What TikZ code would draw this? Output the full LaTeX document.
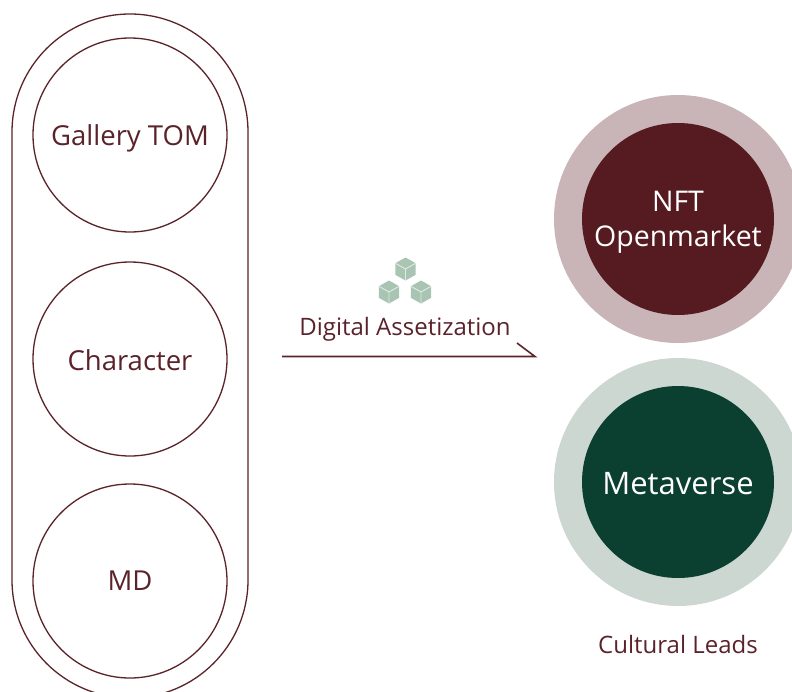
\documentclass[tikz,border=0pt]{standalone}
\usepackage{fontspec}
\setmainfont{Open Sans}
\definecolor{wine}{HTML}{5A2329}
\definecolor{winefill}{HTML}{561B20}
\definecolor{winering}{HTML}{C9B5B7}
\definecolor{greenfill}{HTML}{0B4031}
\definecolor{greenring}{HTML}{CCD7D2}
\definecolor{cube}{HTML}{A9C4B3}
\newcommand{\dropby}[2]{\raisebox{-#1}[\height][\depth]{#2}}
\tikzset{x=1pt,y=-1pt,
 itemcircle/.style={circle,draw=wine,line width=1.3pt,minimum size=194pt,inner sep=0pt,text=wine,font=\fontsize{27.5}{30}\selectfont},
 ringcircle/.style={circle,minimum size=248pt,inner sep=0pt},
 corecircle/.style={circle,minimum size=192pt,inner sep=0pt,text=white,align=center,font=\fontsize{28.5}{35}\selectfont},
 smalllabel/.style={text=wine,font=\fontsize{24}{26}\selectfont,inner sep=0pt},
 cubeicon/.pic={
  \fill[cube] (0,-11.5) -- (10.2,-5.8) -- (10.2,5.8) -- (0,11.5) -- (-10.2,5.8) -- (-10.2,-5.8) -- cycle;
  \draw[white!65!cube,line width=0.9pt] (-10.2,-5.8) -- (0,0) -- (10.2,-5.8) (0,0) -- (0,11.5);
 }}
\begin{document}
\begin{tikzpicture}
\useasboundingbox (0,0) rectangle (792,691);
\clip (0,0) rectangle (792,691);
\draw[wine,line width=1.3pt] (12,132) arc[start angle=180,end angle=360,radius=118] -- (248,580) arc[start angle=0,end angle=180,radius=118] -- cycle;
\node[itemcircle] (gallery) at (130,135) {\dropby{3pt}{Gallery TOM}};
\node[itemcircle] (character) at (130,359) {\dropby{1pt}{Character}};
\node[itemcircle] (md) at (130,581) {MD};
\node[ringcircle,fill=winering] (nftring) at (678,219) {};
\node[corecircle,fill=winefill] (nft) at (678,219) {\dropby{3pt}{NFT}\\\dropby{3pt}{Openmarket}};
\node[ringcircle,fill=greenring] (metaring) at (678,482) {};
\node[corecircle,fill=greenfill,font=\fontsize{31}{36}\selectfont] (meta) at (678,482) {\dropby{2pt}{Metaverse}};
\node[smalllabel] (leads) at (678,644.5) {Cultural Leads};
\node[smalllabel] (digital) at (405,326) {\dropby{3pt}{Digital Assetization}};
\pic at (405.5,269) {cubeicon};
\pic at (389,292) {cubeicon};
\pic at (421,292) {cubeicon};
\coordinate (arrowstart) at (282,356.5);
\coordinate (arrowend) at (535,356.5);
\coordinate (arrowbarb) at (517,343);
\draw[wine,line width=1.6pt] (arrowstart) -- (arrowend) -- (arrowbarb);
\end{tikzpicture}
\end{document}
